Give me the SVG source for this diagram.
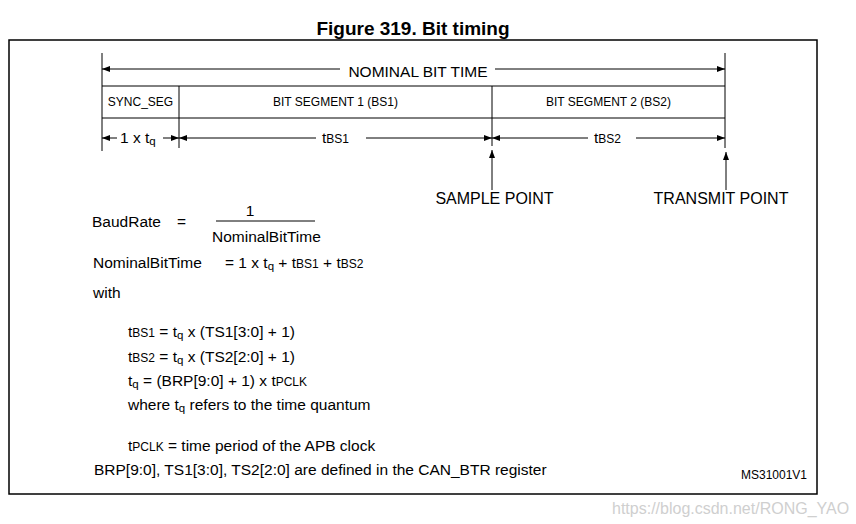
<svg xmlns="http://www.w3.org/2000/svg" width="856" height="524" viewBox="0 0 856 524">
<style>
text{font-family:"Liberation Sans",Arial,sans-serif;fill:#000}
.t{font-size:15.5px}
.s{font-size:12px}
.q{font-size:11.5px}
.seg{font-size:12px;text-anchor:middle}
.lab{font-size:16px;text-anchor:middle}
.ln{stroke:#000;stroke-width:1;fill:none}
.ar{stroke:#000;stroke-width:1;fill:none;marker-end:url(#ah)}
</style>
<defs>
<marker id="ah" markerUnits="userSpaceOnUse" markerWidth="8" markerHeight="6" refX="8" refY="3" orient="auto">
<path d="M0,0 L8,3 L0,6 z" fill="#000"/>
</marker>
</defs>
<rect width="856" height="524" fill="#fff"/>
<text x="413" y="35" style="font-size:19px;font-weight:bold;text-anchor:middle">Figure 319. Bit timing</text>
<rect x="9" y="40" width="808" height="454" fill="none" stroke="#000" stroke-width="1.5"/>

<g id="frame-lines">
<line class="ln" x1="102" y1="53" x2="102" y2="151"/>
<line class="ln" x1="725" y1="53" x2="725" y2="148"/>
<line class="ln" x1="102" y1="86" x2="725" y2="86"/>
<line class="ln" x1="102" y1="118" x2="725" y2="118"/>
<line class="ln" x1="179" y1="86" x2="179" y2="148"/>
<line class="ln" x1="492" y1="86" x2="492" y2="146"/>
</g>

<g id="nominal-bit-time">
<text x="418" y="77" style="font-size:15.5px;text-anchor:middle">NOMINAL BIT TIME</text>
</g>
<g id="sync-seg"><text class="seg" x="140.5" y="106">SYNC_SEG</text></g>
<g id="bs1"><text class="seg" x="335.5" y="106">BIT SEGMENT 1 (BS1)</text></g>
<g id="bs2"><text class="seg" x="608.5" y="106">BIT SEGMENT 2 (BS2)</text></g>

<g id="tq-label"><text class="t" x="120" y="143">1 x t<tspan class="q" dy="2">q</tspan></text></g>
<g id="tbs1-label"><text class="t" x="322" y="143">t<tspan class="s">BS1</tspan></text></g>
<g id="tbs2-label"><text class="t" x="594" y="143">t<tspan class="s">BS2</tspan></text></g>

<g id="sample-point"><text class="lab" x="494.5" y="204">SAMPLE POINT</text></g>
<g id="transmit-point"><text class="lab" x="721" y="204">TRANSMIT POINT</text></g>

<g id="connectors">
<line class="ar" x1="340" y1="69" x2="102" y2="69"/>
<line class="ar" x1="495" y1="69" x2="725" y2="69"/>
<line class="ar" x1="117" y1="138" x2="102" y2="138"/>
<line class="ar" x1="163" y1="138" x2="179" y2="138"/>
<line class="ar" x1="316" y1="138" x2="179" y2="138"/>
<line class="ar" x1="366" y1="138" x2="492" y2="138"/>
<line class="ar" x1="588" y1="138" x2="492" y2="138"/>
<line class="ar" x1="636" y1="138" x2="725" y2="138"/>
<line class="ar" x1="492" y1="190" x2="492" y2="150"/>
<line class="ar" x1="726" y1="190" x2="726" y2="152"/>
</g>

<g id="formulas">
<text class="t" x="92" y="227">BaudRate</text>
<text class="t" x="177" y="227">=</text>
<text class="t" x="250" y="216" text-anchor="middle">1</text>
<line class="ln" x1="216" y1="221" x2="315" y2="221"/>
<text class="t" x="212" y="242">NominalBitTime</text>
<text class="t" x="93" y="268">NominalBitTime</text>
<text class="t" x="225" y="268">= 1 x t<tspan class="q" dy="2">q</tspan><tspan dy="-2"> + t</tspan><tspan class="s">BS1</tspan> + t<tspan class="s">BS2</tspan></text>
<text class="t" x="93" y="298">with</text>
<text class="t" x="128" y="337">t<tspan class="s">BS1</tspan> = t<tspan class="q" dy="2">q</tspan><tspan dy="-2"> x (TS1[3:0] + 1)</tspan></text>
<text class="t" x="128" y="362">t<tspan class="s">BS2</tspan> = t<tspan class="q" dy="2">q</tspan><tspan dy="-2"> x (TS2[2:0] + 1)</tspan></text>
<text class="t" x="128" y="386">t<tspan class="q" dy="2">q</tspan><tspan dy="-2"> = (BRP[9:0] + 1) x t</tspan><tspan class="s">PCLK</tspan></text>
<text class="t" x="128" y="410">where t<tspan class="q" dy="2">q</tspan><tspan dy="-2"> refers to the time quantum</tspan></text>
<text class="t" x="128" y="451">t<tspan class="s">PCLK</tspan> = time period of the APB clock</text>
<text class="t" x="94" y="475">BRP[9:0], TS1[3:0], TS2[2:0] are defined in the CAN_BTR register</text>
<text x="807" y="479" style="font-size:12px;text-anchor:end">MS31001V1</text>
</g>
<text x="612" y="514" style="font-size:16px;fill:#cfcfcf">https://blog.csdn.net/RONG_YAO</text>
</svg>
